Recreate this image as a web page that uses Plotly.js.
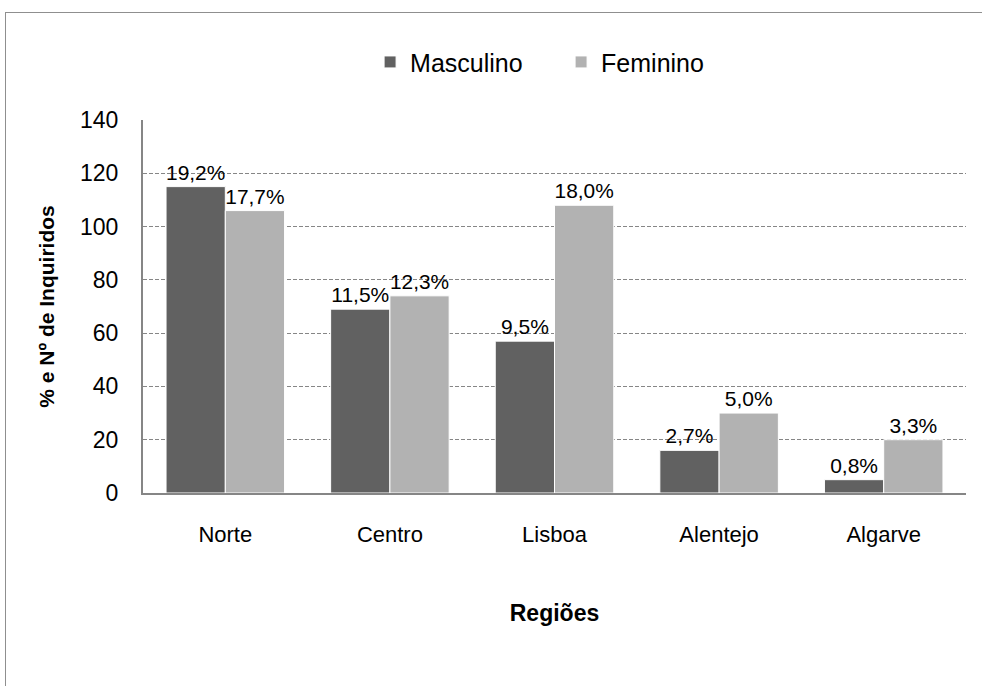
<!DOCTYPE html>
<html>
<head>
<meta charset="utf-8">
<script src="https://cdn.plot.ly/plotly-3.0.1.min.js"></script>
<style>
  html, body { margin:0; padding:0; background:#fff; }
  #wrap { position:relative; width:982px; height:686px; }
  #frame { position:absolute; left:5px; top:12px; width:990px; height:700px;
           border-top:1.5px solid #8f8f8f; border-left:1.5px solid #8f8f8f; }
  #chart { position:absolute; left:0; top:0; width:982px; height:686px; }
</style>
</head>
<body>
<div id="wrap"><div id="frame"></div><div id="chart"></div></div>
<script>
const categories = ["Norte", "Centro", "Lisboa", "Alentejo", "Algarve"];
const masculino = [115, 69, 57, 16, 5];
const feminino = [106, 74, 108, 30, 20];
const masculinoLabels = ["19,2%", "11,5%", "9,5%", "2,7%", "0,8%"];
const femininoLabels = ["17,7%", "12,3%", "18,0%", "5,0%", "3,3%"];
const yTicks = [0, 20, 40, 60, 80, 100, 120, 140];

const font = "Liberation Sans, Arial, sans-serif";

const traces = [
  {
    type: "bar", name: "Masculino", x: categories, y: masculino,
    text: masculinoLabels, textposition: "outside", cliponaxis: false,
    textfont: {family: font, size: 21, color: "#000"},
    marker: {color: "#616161", line: {color: "#ffffff", width: 1}},
    hoverinfo: "none"
  },
  {
    type: "bar", name: "Feminino", x: categories, y: feminino,
    text: femininoLabels, textposition: "outside", cliponaxis: false,
    textfont: {family: font, size: 21, color: "#000"},
    marker: {color: "#b2b2b2", line: {color: "#ffffff", width: 1}},
    hoverinfo: "none"
  }
];

const layout = {
  width: 982, height: 686,
  margin: {l: 143, r: 16, t: 120, b: 193},
  paper_bgcolor: "rgba(0,0,0,0)",
  plot_bgcolor: "rgba(0,0,0,0)",
  font: {family: font, color: "#000"},
  barmode: "group",
  bargap: 0.28,
  bargroupgap: 0,
  showlegend: true,
  legend: {
    orientation: "h", x: 0.508, xanchor: "center", y: 1.155, yanchor: "middle",
    font: {family: font, size: 25, color: "#000"},
    itemwidth: 30, entrywidth: 146, traceorder: "normal"
  },
  xaxis: {
    type: "category",
    showline: true, linecolor: "#868686", linewidth: 2,
    showgrid: false, zeroline: false,
    ticks: "", ticklabelstandoff: 21,
    tickfont: {family: font, size: 22, color: "#000"},
    title: {text: "<b>Regiões</b>", font: {family: font, size: 23, color: "#000"}, standoff: 58}
  },
  yaxis: {
    range: [0, 140], tickvals: yTicks, ticktext: yTicks.map(String),
    showline: true, linecolor: "#868686", linewidth: 2,
    showgrid: true, gridcolor: "#868686", gridwidth: 1, griddash: "4px,2px",
    zeroline: false, ticks: "", ticklabelstandoff: 18,
    tickfont: {family: font, size: 23, color: "#000"},
    title: {text: "<b>% e Nº de Inquiridos</b>", font: {family: font, size: 21, color: "#000"}, standoff: 20}
  }
};

Plotly.newPlot("chart", traces, layout, {displayModeBar: false, staticPlot: true});
</script>
</body>
</html>
